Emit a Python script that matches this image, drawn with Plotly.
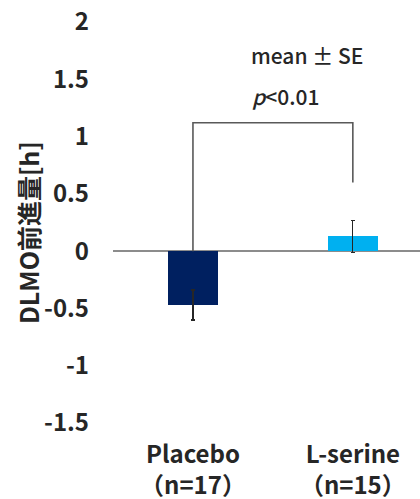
import plotly.graph_objects as go

categories = ["Placebo", "L-serine"]
group_sizes = ["（n=17）", "（n=15）"]
means = [-0.47, 0.13]
se = [0.13, 0.14]
bar_colors = ["#002060", "#00B0F0"]
bracket_top = 1.12
bracket_right_end = 0.6
y_ticks = [2, 1.5, 1, 0.5, 0, -0.5, -1, -1.5]

FONT = "Noto Sans CJK JP"
xpos = list(range(len(categories)))

L, R, T, B = 113, 0, 22, 76
W, H = 420, 499
PW, PH = W - L - R, H - T - B

def px(sx):
    return (sx - L) / PW

def py(sy):
    return (H - B - sy) / PH

fig = go.Figure()
fig.add_trace(go.Bar(
    x=xpos, y=means, width=0.31,
    marker=dict(color=bar_colors, line=dict(width=0)),
    error_y=dict(type="data", array=se, visible=True, color="#262626",
                 thickness=1.3, width=2),
    showlegend=False,
))

# significance bracket
fig.add_shape(type="path",
              path=f"M {xpos[0]},0 L {xpos[0]},{bracket_top} L {xpos[1]},{bracket_top} L {xpos[1]},{bracket_right_end}",
              line=dict(color="#595959", width=1.6), xref="x", yref="y")

fig.add_annotation(x=px(307), y=py(55), xref="paper", yref="paper", text="mean ± SE",
                   showarrow=False, xanchor="center", yanchor="middle",
                   font=dict(family=FONT, size=21, color="#262626", weight=500))
fig.add_annotation(x=px(285), y=py(96), xref="paper", yref="paper", text="<i>p</i>&lt;0.01",
                   showarrow=False, xanchor="center", yanchor="middle",
                   font=dict(family=FONT, size=21, color="#262626", weight=500))

fig.add_annotation(x=px(28), y=py(233), xref="paper", yref="paper", text="DLMO前進量[h]",
                   textangle=-90, showarrow=False, xanchor="center", yanchor="middle",
                   font=dict(family=FONT, size=25, color="#262626", weight="bold"))

fig.update_layout(
    width=W, height=H,
    margin=dict(l=L, r=R, t=T, b=B),
    plot_bgcolor="white", paper_bgcolor="white",
    bargap=0,
    xaxis=dict(range=[-0.5, 1.42], tickvals=xpos,
               ticktext=[f"{c}<br>{n}" for c, n in zip(categories, group_sizes)],
               showline=False, showgrid=False, zeroline=False, ticks="",
               ticklabelstandoff=15, automargin=False,
               tickfont=dict(family=FONT, size=24, color="#262626", weight="bold")),
    yaxis=dict(range=[-1.5, 2], tickvals=y_ticks, ticktext=[f"{v:g}" for v in y_ticks],
               showline=False, showgrid=False, zeroline=True, zerolinecolor="#8c8c8c",
               zerolinewidth=2, ticks="", ticklabelstandoff=23, automargin=False,
               tickfont=dict(family=FONT, size=24, color="#262626", weight="bold")),
)

fig.write_html("out.html", config={"displayModeBar": False},
               post_script="document.body.style.margin='0';")
